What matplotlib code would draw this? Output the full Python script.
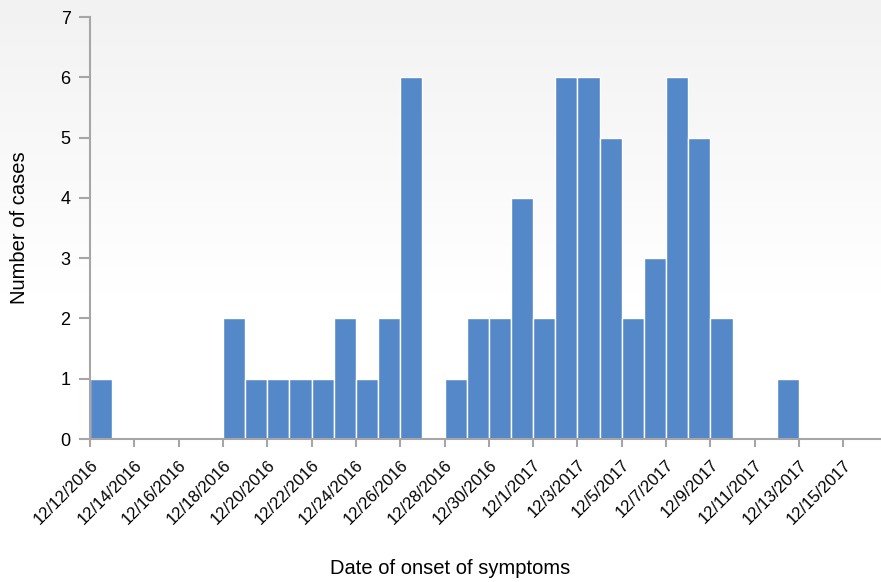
import numpy as np
import matplotlib
matplotlib.use("Agg")
import matplotlib.pyplot as plt
import matplotlib.transforms as mtransforms

# tick labels as printed on the chart (one every 2 days)
tick_labels = ["12/12/2016", "12/14/2016", "12/16/2016", "12/18/2016", "12/20/2016",
               "12/22/2016", "12/24/2016", "12/26/2016", "12/28/2016", "12/30/2016",
               "12/1/2017", "12/3/2017", "12/5/2017", "12/7/2017", "12/9/2017",
               "12/11/2017", "12/13/2017", "12/15/2017"]

# cases per day, starting 12/12/2016
cases = [1, 0, 0, 0, 0, 0, 2, 1, 1, 1, 1, 2, 1, 2, 6, 0,
         1, 2, 2, 4, 2, 6, 6, 5, 2, 3, 6, 5, 2, 0, 0, 1,
         0, 0, 0, 0]

plt.rcParams['font.family'] = ['Liberation Sans', 'DejaVu Sans']

fig = plt.figure(figsize=(8.81, 5.82), dpi=100)

# background gradient: light grey at top fading to white
bg = fig.add_axes([0, 0, 1, 1], zorder=-10)
grad = np.linspace(0, 1, 256).reshape(-1, 1)
bg.imshow(grad, aspect='auto', cmap=matplotlib.colors.LinearSegmentedColormap.from_list(
    'g', ['#f2f2f2', '#ffffff', '#ffffff']), extent=[0, 1, 0, 1], origin='upper')
bg.axis('off')

W, H = 881, 582
ax = fig.add_axes([90 / W, (H - 439) / H, (881 - 90) / W, (439 - 17) / H])
ax.set_facecolor('none')

days = np.arange(len(cases))
ax.bar(days, cases, width=1.0, align='edge', color='#5588c8',
       edgecolor='white', linewidth=1.0, zorder=2)

ax.set_xlim(0, 35.7)
ax.set_ylim(0, 7)
ax.set_yticks(range(8))
ax.set_xticks(np.arange(0, 2 * len(tick_labels), 2))
ax.set_xticklabels(tick_labels, rotation=45, ha='right', va='top',
                   rotation_mode='anchor', fontsize=12)
shift = mtransforms.ScaledTranslation(6 / 100, 0, fig.dpi_scale_trans)
for lbl in ax.get_xticklabels():
    lbl.set_transform(lbl.get_transform() + shift)
ax.tick_params(axis='y', labelsize=13, length=8, width=1.5, color='#a6a6a6', pad=6)
ax.tick_params(axis='x', length=6, width=1.5, color='#a6a6a6', pad=7)

for s in ['top', 'right']:
    ax.spines[s].set_visible(False)
for s in ['left', 'bottom']:
    ax.spines[s].set_color('#a6a6a6')
    ax.spines[s].set_linewidth(1.5)

fig.text(20 / W, 1 - 228 / H, 'Number of cases', rotation=90, ha='center', va='center', fontsize=14.5)
fig.text(450 / W, 1 - 569 / H, 'Date of onset of symptoms', ha='center', va='center', fontsize=14.5)

fig.savefig('out.png', dpi=100)
